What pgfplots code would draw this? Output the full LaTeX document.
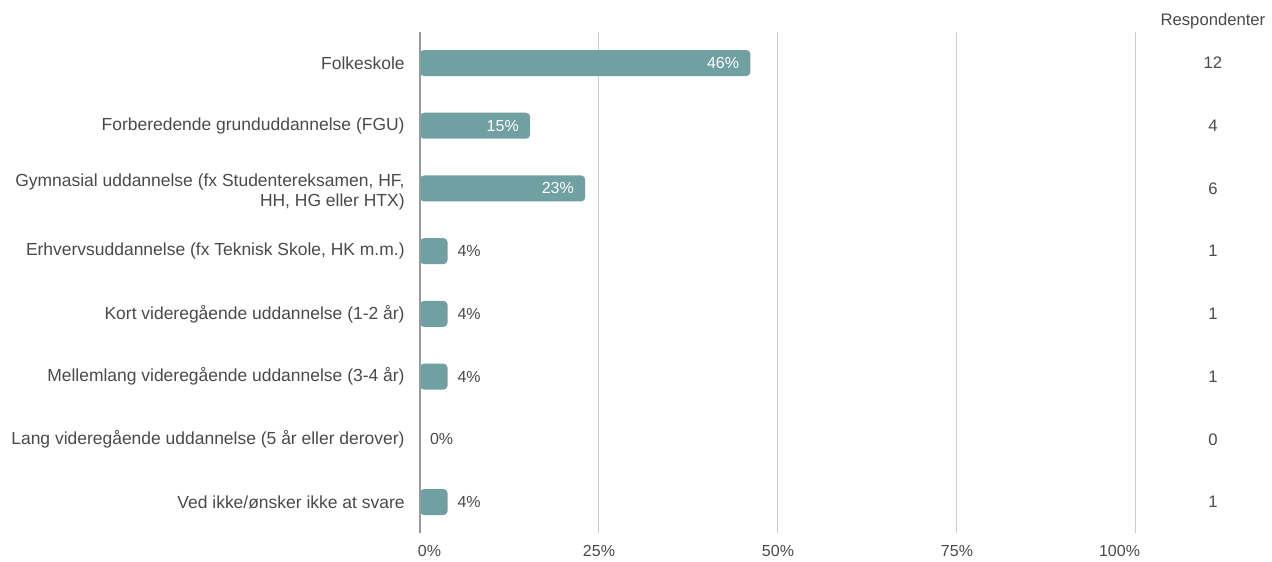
\documentclass[border=0pt]{standalone}
\usepackage{pgfplots}
\pgfplotsset{compat=1.18}
\usepackage{fontspec}
\setmainfont{Liberation Sans}
\usetikzlibrary{calc}

\definecolor{barteal}{HTML}{70A0A2}
\definecolor{txtgray}{HTML}{4A4A4A}
\definecolor{gridgray}{HTML}{CCCCCC}
\definecolor{axisgray}{HTML}{9A9A9A}

\begin{document}
\begin{tikzpicture}
\begin{axis}[
    scale only axis,
    width=537pt,
    height=376.3pt,
    xmin=0, xmax=100,
    ymin=-0.5, ymax=7.5,
    y dir=reverse,
    clip=false,
    axis line style={draw=none},
    major tick length=0pt,
    xtick={0,25,50,75,100},
    xticklabels={\makebox[0pt][l]{\hspace*{-1.5pt}0\%}, 25\%, 50\%, 75\%, \makebox[0pt][r]{100\%\hspace*{-3pt}}},
    xmajorgrids,
    grid style={gridgray, line width=0.75pt},
    ytick={0,...,7},
    yticklabels={
        Folkeskole,
        Forberedende grunduddannelse (FGU),
        {\begin{tabular}{@{}r@{}}\rule{0pt}{16.5pt}Gymnasial uddannelse (fx Studentereksamen, HF,\\HH, HG eller HTX)\end{tabular}},
        {Erhvervsuddannelse (fx Teknisk Skole, HK m.m.)},
        Kort videregående uddannelse (1-2 år),
        Mellemlang videregående uddannelse (3-4 år),
        Lang videregående uddannelse (5 år eller derover),
        Ved ikke/ønsker ikke at svare},
    yticklabel style={align=right, font=\fontsize{13.1}{15}\selectfont, text=txtgray, xshift=-8pt},
    xticklabel style={font=\fontsize{12}{14}\selectfont, text=txtgray, yshift=-5.5pt},
]
% bars
\addplot[xbar, bar width=19.5pt, bar shift=0pt, fill=barteal, draw=none, rounded corners=3pt]
    coordinates {(46.15,0) (15.38,1) (23.08,2) (3.85,3) (3.85,4) (3.85,5) (0,6) (3.85,7)};
% labels inside the bars
\addplot[only marks, mark=none, nodes near coords, point meta=explicit symbolic,
    every node near coord/.style={anchor=east, text=white, font=\fontsize{12}{14}\selectfont, xshift=-5pt}]
    coordinates {(46.15,0)[46\%] (15.38,1)[15\%] (23.08,2)[23\%]};
% labels beside the bars
\addplot[only marks, mark=none, nodes near coords, point meta=explicit symbolic,
    every node near coord/.style={anchor=west, text=txtgray, font=\fontsize{12}{14}\selectfont, xshift=4pt}]
    coordinates {(3.85,3)[4\%] (3.85,4)[4\%] (3.85,5)[4\%] (0,6)[0\%] (3.85,7)[4\%]};
% respondent counts
\addplot[only marks, mark=none, nodes near coords, point meta=explicit symbolic,
    every node near coord/.style={anchor=center, text=txtgray, font=\fontsize{12.5}{14}\selectfont}]
    coordinates {(110.75,0)[12] (110.75,1)[4] (110.75,2)[6] (110.75,3)[1] (110.75,4)[1] (110.75,5)[1] (110.75,6)[0] (110.75,7)[1]};
\node[text=txtgray, font=\fontsize{12.5}{14}\selectfont] at (axis cs:110.75,-0.66) {Respondenter};
\draw[axisgray, line width=0.9pt] (axis cs:0,-0.5) -- (axis cs:0,7.5);
\end{axis}
\useasboundingbox ($(current axis.south west)+(-315pt,-19.95pt)$) rectangle ($(current axis.south west)+(639pt,400.05pt)$);
\end{tikzpicture}
\end{document}
